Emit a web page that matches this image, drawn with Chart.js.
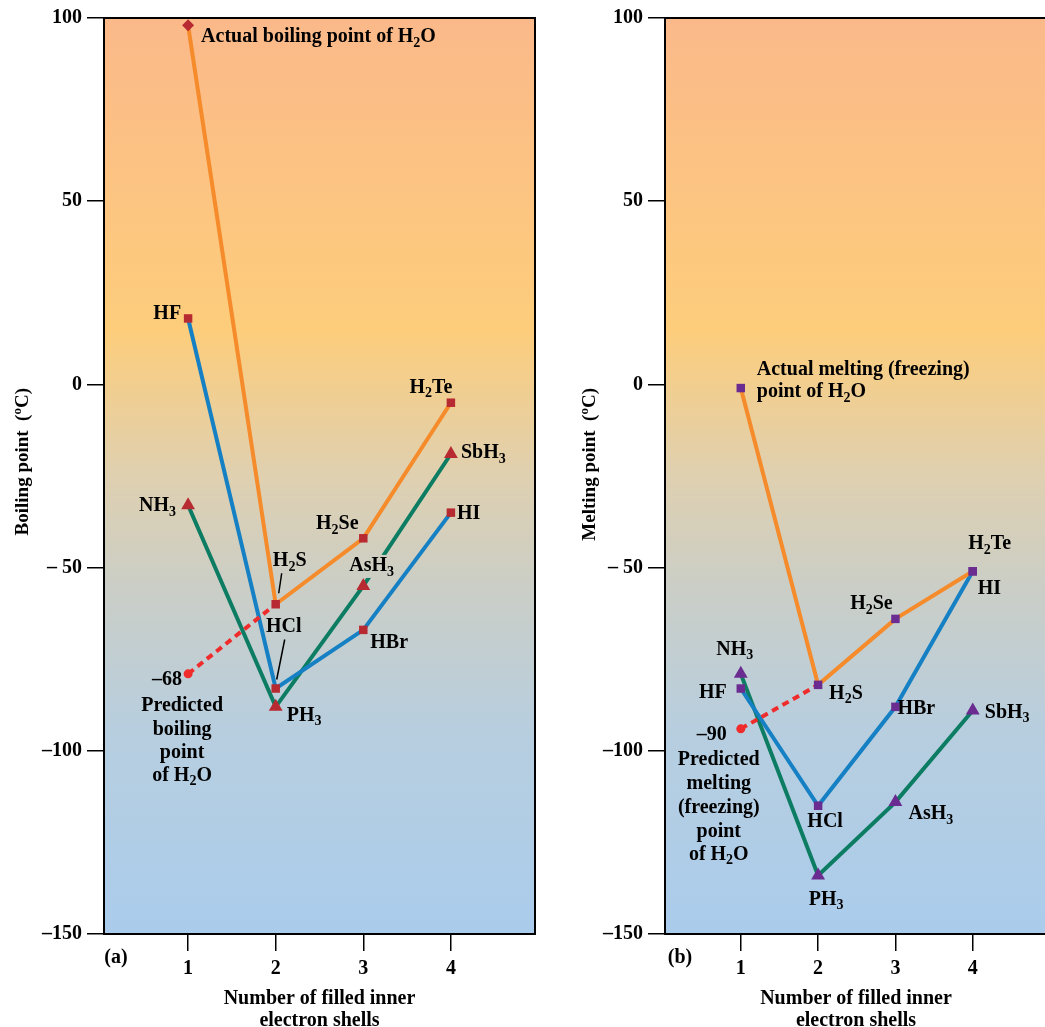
<!DOCTYPE html>
<html>
<head>
<meta charset="utf-8">
<title>Boiling and melting points of the hydrides</title>
<script src="https://cdn.jsdelivr.net/npm/chart.js@4.4.1/dist/chart.umd.min.js"></script>
<style>
  html, body { margin: 0; padding: 0; background: #fff; overflow: hidden; }
  .panel { position: absolute; top: 0; height: 1027px; overflow: hidden; }
  #panelA { left: 0; width: 555px; }
  #panelB { left: 560px; width: 485px; }
</style>
</head>
<body>
<div class="panel" id="panelA"><canvas id="chartA" width="555" height="1027"></canvas></div>
<div class="panel" id="panelB"><canvas id="chartB" width="495" height="1027"></canvas></div>
<script>
// ===============================
// Data
// ===============================
const shells = [1, 2, 3, 4];
const yTicks = [100, 50, 0, -50, -100, -150];

const group16Names = ['H_2O', 'H_2S', 'H_2Se', 'H_2Te'];
const group17Names = ['HF', 'HCl', 'HBr', 'HI'];
const group15Names = ['NH_3', 'PH_3', 'AsH_3', 'SbH_3'];

// (a) boiling points, °C
const bpGroup16 = [98, -60, -42, -5];
const bpGroup17 = [18, -83, -67, -35];
const bpGroup15 = [-33, -88, -55, -19];
const bpPredictedH2O = -79;

// (b) melting points, °C
const mpGroup16 = [-1, -82, -64, -51];
const mpGroup17 = [-83, -115, -88, -51];
const mpGroup15 = [-79, -134, -114, -89];
const mpPredictedH2O = -94;

// ===============================
// Styles
// ===============================
const SERIF = '"Liberation Serif", "Times New Roman", serif';
const ORANGE = '#f58b2a';
const BLUE = '#1580c3';
const GREEN = '#0c7c62';
const RED_DOT = '#ef2b2b';
const RED_MARK = '#b82a31';
const PURPLE_MARK = '#6a2c90';
const FONT_SIZE = 20;

// ===============================
// Rich text: "_x" = subscript, "^x" = superscript
// ===============================
function richParts(str) {
    const parts = [];
    for (let i = 0; i < str.length; i++) {
        const c = str[i];
        if ((c === '_' || c === '^') && i + 1 < str.length) {
            parts.push({ t: str[i + 1], k: c });
            i++;
        } else if (parts.length && parts[parts.length - 1].k === '') {
            parts[parts.length - 1].t += c;
        } else {
            parts.push({ t: c, k: '' });
        }
    }
    return parts;
}

function measureRich(ctx, str, size) {
    let w = 0;
    richParts(str).forEach(p => {
        ctx.font = `bold ${p.k ? Math.round(size * 0.7) : size}px ${SERIF}`;
        w += ctx.measureText(p.t).width;
    });
    return w;
}

function drawRich(ctx, str, x, y, align, size) {
    const w = measureRich(ctx, str, size);
    let cx = align === 'center' ? x - w / 2 : align === 'right' ? x - w : x;
    ctx.textAlign = 'left';
    ctx.textBaseline = 'middle';
    ctx.fillStyle = '#000';
    richParts(str).forEach(p => {
        ctx.font = `bold ${p.k ? Math.round(size * 0.7) : size}px ${SERIF}`;
        const dy = p.k === '_' ? size * 0.3 : p.k === '^' ? -size * 0.3 : 0;
        ctx.fillText(p.t, cx, y + dy);
        cx += ctx.measureText(p.t).width;
    });
    return w;
}

// ===============================
// Annotation layout (offsets in px from the anchor point)
// ===============================
const decor = {
    chartA: {
        yTitle: 'Boiling point  (^oC)', yTitleX: 23,
        letter: '(a)', letterDx: 12,
        notes: [
            { at: [1, bpGroup16[0]], text: 'Actual boiling point of ' + group16Names[0], dx: 13, dy: 12, align: 'left' },
            { at: [1, bpGroup17[0]], text: group17Names[0], dx: -7, dy: -5, align: 'right' },
            { at: [1, bpGroup15[0]], text: group15Names[0], dx: -12, dy: 1, align: 'right' },
            { at: [2, bpGroup16[1]], text: group16Names[1], dx: 14, dy: -43, align: 'center' },
            { at: [3, bpGroup16[2]], text: group16Names[2], dx: -26, dy: -14, align: 'center' },
            { at: [4, bpGroup16[3]], text: group16Names[3], dx: -20, dy: -15, align: 'center' },
            { at: [4, bpGroup15[3]], text: group15Names[3], dx: 10, dy: -1, align: 'left' },
            { at: [3, bpGroup15[2]], text: group15Names[2], dx: -14, dy: -20, align: 'left', knock: true },
            { at: [4, bpGroup17[3]], text: group17Names[3], dx: 6, dy: 1, align: 'left' },
            { at: [3, bpGroup17[2]], text: group17Names[2], dx: 7, dy: 13, align: 'left' },
            { at: [2, bpGroup17[1]], text: group17Names[1], dx: 8, dy: -62, align: 'center' },
            { at: [2, bpGroup15[1]], text: group15Names[1], dx: 11, dy: 9, align: 'left' },
            { at: [1, bpPredictedH2O], text: '\u201368', dx: -6, dy: 6, align: 'right' },
            { at: [1, bpPredictedH2O], text: 'Predicted', dx: -6, dy: 32, align: 'center' },
            { at: [1, bpPredictedH2O], text: 'boiling', dx: -6, dy: 56, align: 'center' },
            { at: [1, bpPredictedH2O], text: 'point', dx: -6, dy: 79, align: 'center' },
            { at: [1, bpPredictedH2O], text: 'of H_2O', dx: -6, dy: 102, align: 'center' }
        ],
        leaders: [
            { at: [2, bpGroup16[1]], from: [6, -31], to: [3, -11] },
            { at: [2, bpGroup17[1]], from: [9, -49], to: [1, -9] }
        ]
    },
    chartB: {
        yTitle: 'Melting point  (^oC)', yTitleX: 30,
        letter: '(b)', letterDx: 15,
        notes: [
            { at: [1, mpGroup16[0]], text: 'Actual melting (freezing)', dx: 16, dy: -18, align: 'left' },
            { at: [1, mpGroup16[0]], text: 'point of H_2O', dx: 16, dy: 4, align: 'left' },
            { at: [4, mpGroup16[3]], text: group16Names[3], dx: 17, dy: -27, align: 'center' },
            { at: [4, mpGroup17[3]], text: group17Names[3], dx: 5, dy: 18, align: 'left' },
            { at: [3, mpGroup16[2]], text: group16Names[2], dx: -24, dy: -15, align: 'center' },
            { at: [2, mpGroup16[1]], text: group16Names[1], dx: 11, dy: 9, align: 'left' },
            { at: [3, mpGroup17[2]], text: group17Names[2], dx: 2, dy: 2, align: 'left' },
            { at: [4, mpGroup15[3]], text: group15Names[3], dx: 12, dy: 2, align: 'left' },
            { at: [1, mpGroup15[0]], text: group15Names[0], dx: -6, dy: -24, align: 'center' },
            { at: [1, mpGroup17[0]], text: group17Names[0], dx: -14, dy: 4, align: 'right' },
            { at: [1, mpPredictedH2O], text: '\u201390', dx: -14, dy: 6, align: 'right' },
            { at: [1, mpPredictedH2O], text: 'Predicted', dx: -22, dy: 31, align: 'center' },
            { at: [1, mpPredictedH2O], text: 'melting', dx: -22, dy: 55, align: 'center' },
            { at: [1, mpPredictedH2O], text: '(freezing)', dx: -22, dy: 79, align: 'center' },
            { at: [1, mpPredictedH2O], text: 'point', dx: -22, dy: 103, align: 'center' },
            { at: [1, mpPredictedH2O], text: 'of H_2O', dx: -22, dy: 126, align: 'center' },
            { at: [2, mpGroup17[1]], text: group17Names[1], dx: 7, dy: 16, align: 'center' },
            { at: [3, mpGroup15[2]], text: group15Names[2], dx: 13, dy: 12, align: 'left' },
            { at: [2, mpGroup15[1]], text: group15Names[1], dx: 8, dy: 24, align: 'center' }
        ],
        leaders: []
    }
};

// ===============================
// Background gradient + labels plugin
// ===============================
function areaGradient(chart) {
    const { ctx, chartArea: a } = chart;
    const g = ctx.createLinearGradient(0, a.top, 0, a.bottom);
    g.addColorStop(0, '#fbb98a');
    g.addColorStop(0.34, '#fdcd7b');
    g.addColorStop(0.5, '#dfd0b0');
    g.addColorStop(0.62, '#cbcec6');
    g.addColorStop(0.78, '#b7cedf');
    g.addColorStop(1, '#aaccec');
    return g;
}

function anchor(chart, at) {
    return [chart.scales.x.getPixelForValue(at[0]), chart.scales.y.getPixelForValue(at[1])];
}

const panelDecor = {
    id: 'panelDecor',
    beforeDraw(chart) {
        const { ctx, chartArea: a } = chart;
        ctx.save();
        ctx.fillStyle = areaGradient(chart);
        ctx.fillRect(a.left, a.top, a.right - a.left, a.bottom - a.top);
        ctx.restore();
    },
    beforeDatasetsDraw(chart) {
        const { ctx, chartArea: a } = chart;
        ctx.save();
        ctx.strokeStyle = '#000';
        ctx.lineWidth = 2;
        ctx.strokeRect(a.left, a.top, a.right - a.left, a.bottom - a.top);
        ctx.restore();
    },
    afterDatasetsDraw(chart) {
        const { ctx } = chart;
        const d = decor[chart.canvas.id];
        ctx.save();
        d.notes.forEach(n => {
            const [px, py] = anchor(chart, n.at);
            const x = px + n.dx, y = py + n.dy;
            if (n.knock) {
                const w = measureRich(ctx, n.text, FONT_SIZE);
                const left = n.align === 'center' ? x - w / 2 : n.align === 'right' ? x - w : x;
                ctx.fillStyle = areaGradient(chart);
                ctx.fillRect(left, y - 11, w + 2, 23);
            }
            drawRich(ctx, n.text, x, y, n.align, FONT_SIZE);
        });
        ctx.strokeStyle = '#000';
        ctx.lineWidth = 1.5;
        d.leaders.forEach(l => {
            const [px, py] = anchor(chart, l.at);
            ctx.beginPath();
            ctx.moveTo(px + l.from[0], py + l.from[1]);
            ctx.lineTo(px + l.to[0], py + l.to[1]);
            ctx.stroke();
        });
        ctx.restore();
    },
    afterDraw(chart) {
        const { ctx, chartArea: a } = chart;
        const d = decor[chart.canvas.id];
        ctx.save();
        drawRich(ctx, d.letter, a.left + d.letterDx, a.bottom + 24, 'center', FONT_SIZE);
        ctx.translate(d.yTitleX, 388);
        ctx.rotate(-Math.PI / 2);
        drawRich(ctx, d.yTitle, 0, 0, 'right', 19);
        ctx.restore();
    }
};

// ===============================
// Chart builders
// ===============================
const points = values => shells.map((s, i) => ({ x: s, y: values[i] }));

const lineSet = (values, color) => ({
    data: points(values), showLine: true, borderColor: color, borderWidth: 4,
    pointRadius: 0, order: 2
});

const markSet = (values, color, styles, radii) => ({
    data: points(values), showLine: false, pointStyle: styles, pointRadius: radii,
    pointBackgroundColor: color, pointBorderWidth: 0, order: 0
});

const predictedSet = (predicted, target) => ({
    data: [{ x: shells[0], y: predicted }, { x: shells[1], y: target }],
    showLine: true, borderColor: RED_DOT, borderWidth: 4, borderDash: [7, 5],
    pointRadius: [4.5, 0], pointBackgroundColor: RED_DOT, pointBorderWidth: 0, order: 1
});

const tickFont = { family: SERIF, weight: 'bold', size: FONT_SIZE };

function makePanel(id, datasets, xMin, xMax, yWidth, padRight) {
    return new Chart(document.getElementById(id), {
        type: 'scatter',
        data: { datasets: datasets },
        options: {
            responsive: false,
            animation: false,
            devicePixelRatio: 1,
            layout: { padding: { top: 18, right: padRight, left: 0, bottom: 0 } },
            plugins: { legend: { display: false }, tooltip: { enabled: false } },
            scales: {
                x: {
                    type: 'linear', min: xMin, max: xMax,
                    afterBuildTicks: s => { s.ticks = shells.map(v => ({ value: v })); },
                    afterFit: s => { s.height = 93; },
                    ticks: { color: '#000', font: tickFont, padding: 6 },
                    grid: { drawOnChartArea: false, color: '#000', lineWidth: 1.5, tickLength: 17 },
                    border: { color: '#000', width: 2 },
                    title: {
                        display: true,
                        text: ['Number of filled inner', 'electron shells'],
                        color: '#000',
                        font: { family: SERIF, weight: 'bold', size: FONT_SIZE, lineHeight: 1.1 },
                        padding: { top: 0, bottom: -5 }
                    }
                },
                y: {
                    type: 'linear', min: -150, max: 100,
                    afterBuildTicks: s => { s.ticks = yTicks.map(v => ({ value: v })); },
                    afterFit: s => { s.width = yWidth; },
                    ticks: {
                        color: '#000', font: tickFont, padding: 5,
                        callback: v => v === -50 ? '\u2013 50' : v < 0 ? '\u2013' + (-v) : String(v)
                    },
                    grid: { drawOnChartArea: false, color: '#000', lineWidth: 1.5, tickLength: 17 },
                    border: { color: '#000', width: 2 }
                }
            }
        },
        plugins: [panelDecor]
    });
}

// (a) boiling points
makePanel('chartA', [
    markSet(bpGroup16, RED_MARK, ['rectRot', 'rect', 'rect', 'rect'], [6, 6, 6, 6]),
    markSet(bpGroup17, RED_MARK, 'rect', 6),
    markSet(bpGroup15, RED_MARK, 'triangle', 8),
    predictedSet(bpPredictedH2O, bpGroup16[1]),
    lineSet(bpGroup16, ORANGE),
    lineSet(bpGroup17, BLUE),
    lineSet(bpGroup15, GREEN)
], 0.04, 4.96, 104, 20);

// (b) melting points
makePanel('chartB', [
    markSet(mpGroup16, PURPLE_MARK, 'rect', 6),
    markSet(mpGroup17, PURPLE_MARK, 'rect', 6),
    markSet(mpGroup15, PURPLE_MARK, 'triangle', 8),
    predictedSet(mpPredictedH2O, mpGroup16[1]),
    lineSet(mpGroup16, ORANGE),
    lineSet(mpGroup17, BLUE),
    lineSet(mpGroup15, GREEN)
], 0.02, 4.96, 105, 0);
</script>
</body>
</html>
